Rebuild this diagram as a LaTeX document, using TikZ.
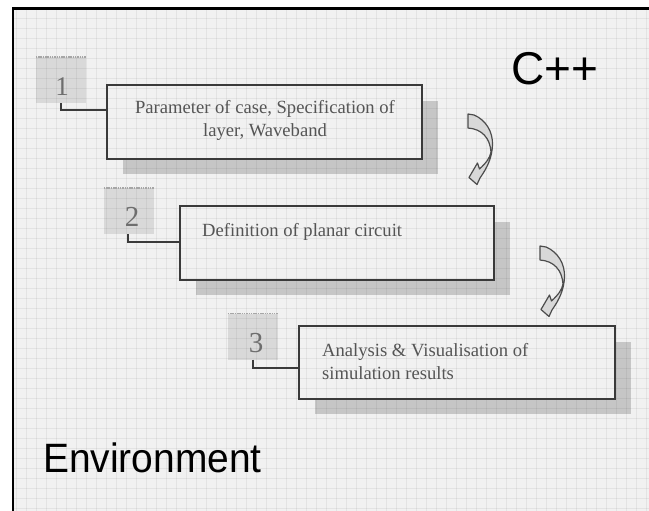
\documentclass[tikz,border=0pt]{standalone}
\usepackage{fontspec}
\setmainfont{Liberation Serif}
\newfontfamily\arialf{Liberation Sans}
\definecolor{bgc}{HTML}{F1F1F1}
\definecolor{shadc}{HTML}{C6C6C6}
\definecolor{sqc}{HTML}{D9D9D9}
\definecolor{linec}{HTML}{3A3A3A}
\definecolor{txtc}{HTML}{555555}
\definecolor{numc}{HTML}{6E6E6E}
\definecolor{arrfill}{HTML}{D8D8D8}
\tikzset{
  stepbox/.style={draw=linec, line width=1.8pt, rectangle, inner sep=0pt},
  numsq/.style={fill=sqc, rectangle, inner sep=0pt, minimum width=50pt, minimum height=46pt,
     text=numc, font=\fontsize{28}{30}\selectfont},
  btext/.style={text=txtc, font=\fontsize{18.6}{23}\selectfont, inner sep=0pt},
  conn/.style={draw=linec, line width=1.5pt},
  shad/.style={fill=shadc},
  carrow/.pic={
    \draw[fill=arrfill, draw=black!70, line width=1.2pt, line join=round]
      (0,0) -- (6,1) .. controls (18,6) and (25,18) .. (24.5,31)
      .. controls (24,44) and (19,54) .. (12,64)
      -- (9,70.5) -- (1,63.5) -- (9.5,49) -- (11.5,55)
      .. controls (18,49) and (22,44) .. (23,38)
      .. controls (22,24) and (14,15) .. (0,14) -- cycle;
  }
}
\begin{document}
\begin{tikzpicture}[x=1pt,y=-1pt]
\useasboundingbox (0,0) rectangle (649,511);
\fill[white] (0,0) rectangle (649,511);
\fill[bgc] (13,8.5) rectangle (649,511);
% boxes (outline nodes)
\node[stepbox, draw=none, minimum width=313pt, minimum height=72pt] (b1) at (264.5,122) {};
\node[stepbox, draw=none, minimum width=312pt, minimum height=72pt] (b2) at (337,243) {};
\node[stepbox, draw=none, minimum width=314pt, minimum height=71pt] (b3) at (457,362.5) {};
% shadows
\foreach \b in {b1,b2,b3}{
  \fill[shad] ([shift={(16,15.5)}]\b.north west) rectangle ([shift={(16,15.5)}]\b.south east);
}
\foreach \b in {b1,b2,b3}{
  \fill[bgc] (\b.north west) rectangle (\b.south east);
}
% number squares
\node[numsq] (s1) at (61,80) {};
\node[numsq] (s2) at (129,211) {};
\node[numsq] (s3) at (253,336.5) {};
% grid overlay
\foreach \i in {0,...,63}{
  \draw[black, opacity=0.055, line width=0.9pt] (16.7+10*\i,9.5) -- (16.7+10*\i,511);
}
\foreach \j in {0,...,49}{
  \draw[black, opacity=0.055, line width=0.9pt] (14,18.5+10*\j) -- (649,18.5+10*\j);
}
% square top edges
\foreach \s in {s1,s2,s3}{
  \draw[black!35, line width=1.5pt, dash pattern=on 1.5pt off 0.8pt] (\s.north west) -- (\s.north east);
}
% box outlines
\foreach \b in {b1,b2,b3}{
  \draw[stepbox] (\b.north west) rectangle (\b.south east);
}
% numbers
\node[text=numc, font=\fontsize{27}{30}\selectfont] (n1) at (62,87) {1};
\node[text=numc, font=\fontsize{29}{30}\selectfont] (n2) at (132,217) {2};
\node[text=numc, font=\fontsize{29}{30}\selectfont] (n3) at (256,343) {3};
% connectors
\coordinate (c1) at (61,110);
\coordinate (c2) at (128,242);
\coordinate (c3) at (253,368);
\draw[conn] (s1.south) |- (b1.west |- c1);
\draw[conn] (s2.south -| c2) |- (b2.west |- c2);
\draw[conn] (s3.south) |- (b3.west |- c3);
% texts
\node[btext, align=center] (t1) at (265,120) {Parameter of case, Specification of\\layer, Waveband};
\node[btext, anchor=west] (t2) at (202,231.5) {Definition of planar circuit};
\node[btext, anchor=west, align=left] (t3) at (322,362) {Analysis \& Visualisation of\\simulation results};
% curved arrows
\pic at (468,114) {carrow};
\pic at (540,246) {carrow};
% titles
\node[anchor=base west, inner sep=0pt, font=\arialf\fontsize{46}{50}\selectfont] (cpp) at (511,85) {C++};
\node[anchor=base west, inner sep=0pt, font=\arialf\fontsize{41}{45}\selectfont] (env) at (43,472) {\scalebox{0.95}[1]{Environment}};
% frame
\draw[black, line width=2.2pt] (13,511) -- (13,8.5) -- (649,8.5);
\end{tikzpicture}
\end{document}
